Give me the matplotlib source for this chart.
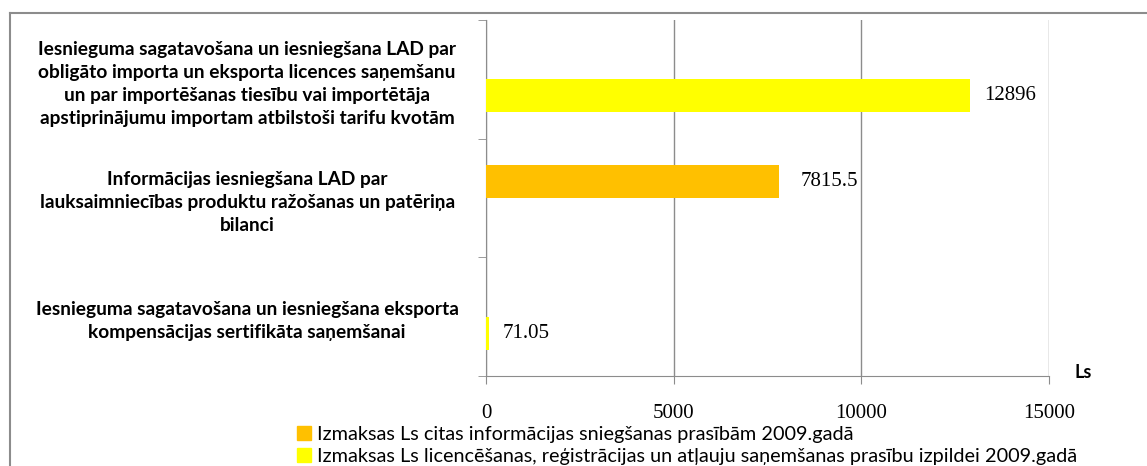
import numpy as np
import matplotlib.pyplot as plt
from matplotlib.lines import Line2D
from matplotlib.patches import Patch

categories = [
    "Iesnieguma sagatavošana un iesniegšana LAD par\nobligāto importa un eksporta licences saņemšanu\nun par importēšanas tiesību vai importētāja\napstiprinājumu importam atbilstoši tarifu kvotām",
    "Informācijas iesniegšana LAD par\nlauksaimniecības produktu ražošanas un patēriņa\nbilanci",
    "Iesnieguma sagatavošana un iesniegšana eksporta\nkompensācijas sertifikāta saņemšanai",
]
series_names = [
    "Izmaksas Ls citas informācijas sniegšanas prasībām 2009.gadā",
    "Izmaksas Ls licencēšanas, reģistrācijas un atļauju saņemšanas prasību izpildei 2009.gadā",
]
other_info = [0, 7815.5, 0]
licences = [12896, 0, 71.05]
xticks = [0, 5000, 10000, 15000]

ORANGE = "#FFC000"
YELLOW = "#FFFF00"
GRAY = "#8c8c8c"

W, H = 1147, 466
fig = plt.figure(figsize=(W / 100, H / 100), dpi=100)
ax = fig.add_axes([486 / W, 1 - 376 / H, (1049 - 486) / W, (376 - 20) / H])

y = np.arange(len(categories))
bh = 0.277
b_or = ax.barh(y - bh / 2, other_info, height=bh, color=ORANGE, zorder=3)
b_ye = ax.barh(y + bh / 2, licences, height=bh, color=YELLOW, zorder=3)

for bars, vals, pad in [(b_or, other_info, 15), (b_ye, licences, 10)]:
    labs = [(f"{v:g}" if v else "") for v in vals]
    ax.bar_label(bars, labels=labs, padding=pad, fontsize=15,
                 family="Liberation Serif")

ax.set_xlim(0, 15000)
ax.set_ylim(len(categories) - 0.5, -0.5)

ax.set_xticks(xticks)
ax.set_xticklabels([str(t) for t in xticks], family="Liberation Serif", fontsize=15)
ax.tick_params(axis="x", direction="out", length=6, color=GRAY, pad=14)

ax.set_yticks(y)
ax.set_yticklabels(categories, ha="center", multialignment="center",
                   family="Lato", fontweight="bold", fontsize=13.8, linespacing=1.45)
ax.tick_params(axis="y", which="major", length=0, pad=172)
ax.set_yticks(np.arange(len(categories) + 1) - 0.5, minor=True)
ax.tick_params(axis="y", which="minor", direction="out", length=6, color=GRAY)

ax.grid(axis="x", color=GRAY, linewidth=1, zorder=0)
for s in ["top", "right"]:
    ax.spines[s].set_visible(False)
for s in ["left", "bottom"]:
    ax.spines[s].set_color(GRAY)

fig.text(1075 / W, 1 - 372 / H, "Ls", family="Lato", fontweight="bold",
         fontsize=13, va="center", ha="left")

handles = [Patch(color=ORANGE), Patch(color=YELLOW)]
fig.legend(handles, series_names, loc="upper left",
           bbox_to_anchor=(297 / W, 1 - 426 / H), frameon=False,
           prop={"family": "Lato", "size": 14.3}, handlelength=0.7,
           handleheight=0.7, handletextpad=0.3, labelspacing=0.25,
           borderaxespad=0, borderpad=0)

fig.add_artist(Line2D([10 / W, 1], [1 - 13 / H, 1 - 13 / H], color=GRAY, lw=1.5,
                      transform=fig.transFigure))
fig.add_artist(Line2D([10 / W, 10 / W], [0, 1 - 13 / H], color=GRAY, lw=1.5,
                      transform=fig.transFigure))

fig.savefig("out.png", dpi=100)
